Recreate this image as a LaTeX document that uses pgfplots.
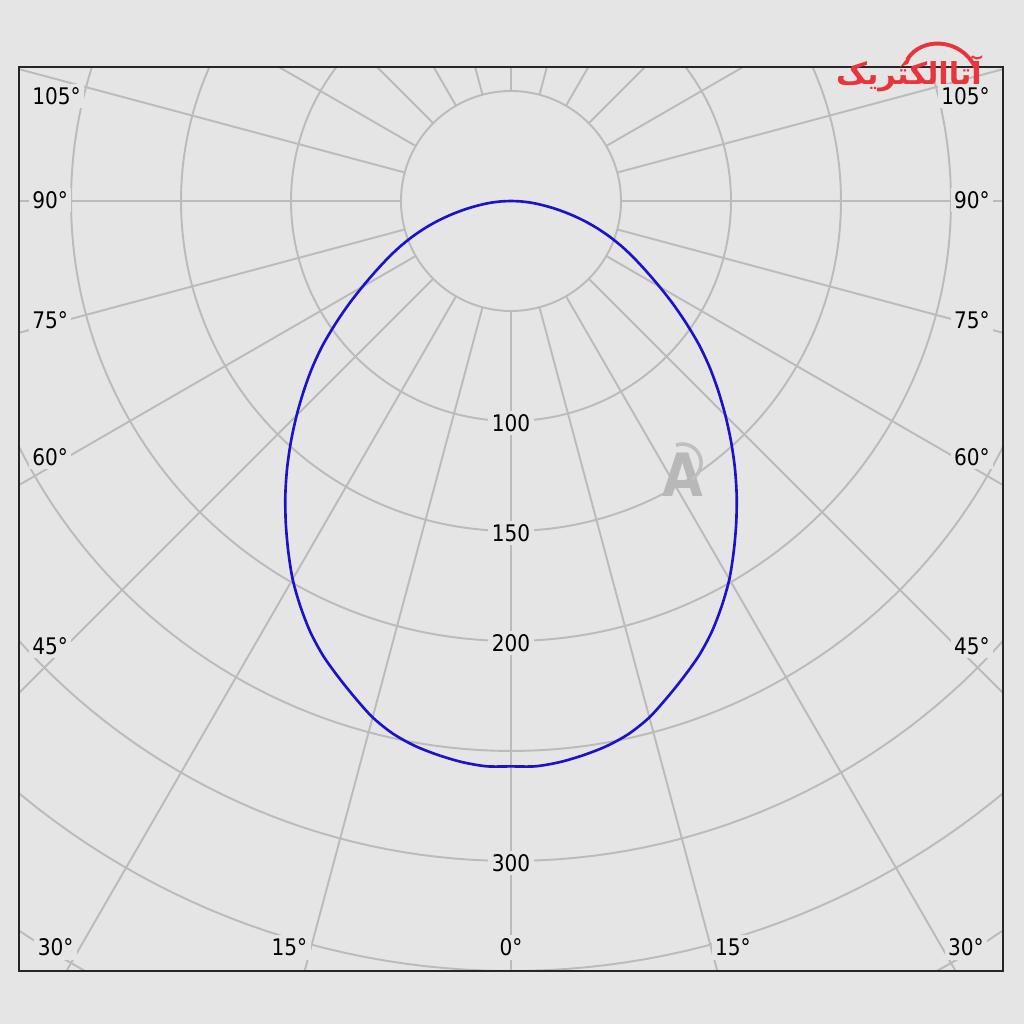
\documentclass[border=0pt]{standalone}
\usepackage{pgfplots}
\pgfplotsset{compat=1.18}
\usepackage{pgfplotstable}
\usepackage{fontspec}
\setmainfont{DejaVu Sans}[FakeStretch=0.88]
\newfontfamily\arabicfont[Script=Arabic]{DejaVu Sans}
\TeXXeTstate=1
\definecolor{bgc}{HTML}{E5E5E5}
\definecolor{gridc}{HTML}{BBBBBB}
\definecolor{curvec}{HTML}{1C12C8}
\definecolor{logored}{HTML}{E8343C}
\pgfplotstableread{
a I
-90 0
-87.5 4.5
-85 9.5
-82.5 14.5
-80 20.5
-77.5 27
-75 34
-72.5 41
-70 48
-67.5 55
-65 62
-62.5 69.5
-60 78
-57.5 87.5
-55 97.5
-52.5 108
-50 118
-47.5 127.8
-45 137.8
-42.5 148
-40 158.3
-37.5 168.5
-35 178.5
-32.5 188.5
-30 198.5
-27.5 207.5
-25 216
-22.5 223.5
-20 230
-17.5 236.5
-15 243
-12.5 248
-10 251.5
-7.5 254
-5 256
-2.5 257.2
0 257
2.5 257.2
5 256
7.5 254
10 251.5
12.5 248
15 243
17.5 236.5
20 230
22.5 223.5
25 216
27.5 207.5
30 198.5
32.5 188.5
35 178.5
37.5 168.5
40 158.3
42.5 148
45 137.8
47.5 127.8
50 118
52.5 108
55 97.5
57.5 87.5
60 78
62.5 69.5
65 62
67.5 55
70 48
72.5 41
75 34
77.5 27
80 20.5
82.5 14.5
85 9.5
87.5 4.5
90 0
}\curvedata
\begin{document}
\begin{tikzpicture}
\fill[bgc] (0,0) rectangle (10.24cm,10.24cm);
\begin{axis}[at={(0.19cm,0.53cm)}, anchor=south west, scale only axis,
  width=9.84cm, height=9.04cm,
  xmin=-223.636, xmax=223.636, ymin=-350, ymax=60.909,
  axis background/.style={fill=bgc},
  xtick=\empty, ytick=\empty, axis on top,
  axis line style={line width=0.6pt, color=black!85},
  font=\fontsize{6.5}{7.5}\selectfont]
\pgfplotsinvokeforeach{50,100,...,400}{
  \addplot[gridc, line width=0.55pt, domain=0:360, samples=240, variable=\t, forget plot] ({#1*cos(\t)},{#1*sin(\t)});
}
\pgfplotsinvokeforeach{0,15,...,345}{
  \draw[gridc, line width=0.55pt] (axis cs:{50*sin(#1)},{-50*cos(#1)}) -- (axis cs:{700*sin(#1)},{-700*cos(#1)});
}
\addplot[curvec, line width=0.75pt, smooth] table[x expr={\thisrow{I}*sin(\thisrow{a})}, y expr={-\thisrow{I}*cos(\thisrow{a})}] {\curvedata};
% ring labels
\node[fill=bgc, inner sep=1pt] at (axis cs:0,-101) {100};
\node[fill=bgc, inner sep=1pt] at (axis cs:0,-151) {150};
\node[fill=bgc, inner sep=1pt] at (axis cs:0,-201) {200};
\node[fill=bgc, inner sep=1pt] at (axis cs:0,-301) {300};
% side labels left
\node[fill=bgc, inner sep=1pt, anchor=west] at (axis cs:-219.5,47.7) {105°};
\node[fill=bgc, inner sep=1pt, anchor=west] at (axis cs:-219.5,0.4) {90°};
\node[fill=bgc, inner sep=1pt, anchor=west] at (axis cs:-219.5,-54.1) {75°};
\node[fill=bgc, inner sep=1pt, anchor=west] at (axis cs:-219.5,-116.4) {60°};
\node[fill=bgc, inner sep=1pt, anchor=west] at (axis cs:-219.5,-202.3) {45°};
% side labels right
\node[fill=bgc, inner sep=1pt, anchor=east] at (axis cs:219.5,47.7) {105°};
\node[fill=bgc, inner sep=1pt, anchor=east] at (axis cs:219.5,0.4) {90°};
\node[fill=bgc, inner sep=1pt, anchor=east] at (axis cs:219.5,-54.1) {75°};
\node[fill=bgc, inner sep=1pt, anchor=east] at (axis cs:219.5,-116.4) {60°};
\node[fill=bgc, inner sep=1pt, anchor=east] at (axis cs:219.5,-202.3) {45°};
% bottom labels
\node[fill=bgc, inner sep=1pt] at (axis cs:-207,-339.3) {30°};
\node[fill=bgc, inner sep=1pt] at (axis cs:-100.7,-339.3) {15°};
\node[fill=bgc, inner sep=1pt] at (axis cs:0,-339.3) {0°};
\node[fill=bgc, inner sep=1pt] at (axis cs:100.9,-339.3) {15°};
\node[fill=bgc, inner sep=1pt] at (axis cs:206.8,-339.3) {30°};
% watermark
\node[text=black!28, font=\bfseries\fontsize{17}{19}\selectfont] at (axis cs:78,-124.5) {A};
\draw[black!25, line width=1pt] (axis cs:75,-111) arc[start angle=110, end angle=-60, radius=8.5];
\end{axis}
% logo
\node[text=logored, font=\arabicfont\bfseries\fontsize{8.6}{10}\selectfont, inner sep=0pt] at (9.09cm,9.50cm) {\beginR آتاالکتریک\endR};
\draw[logored, line width=1.1pt] (9.07cm,9.64cm) .. controls (9.2cm,9.87cm) and (9.6cm,9.87cm) .. (9.75cm,9.57cm);
\fill[logored] (9.0cm,9.57cm) -- (9.13cm,9.73cm) -- (9.08cm,9.60cm) -- cycle;
\end{tikzpicture}
\end{document}
